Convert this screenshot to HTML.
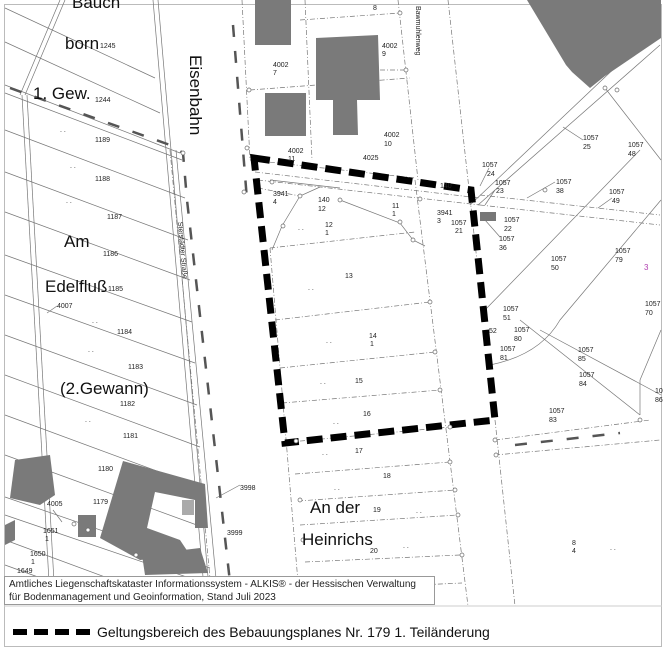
<!DOCTYPE html>
<html><head><meta charset="utf-8"><style>
html,body{margin:0;padding:0;background:#fff}
svg{display:block}
text{font-family:"Liberation Sans",sans-serif;fill:#222}
.s{font-size:7px}
.b{font-size:17px;fill:#111}
</style></head><body>
<svg width="667" height="651" viewBox="0 0 667 651" xmlns="http://www.w3.org/2000/svg">
<rect width="667" height="651" fill="#fff"/>
<rect x="4.5" y="4.5" width="657" height="642" fill="none" stroke="#bbb" stroke-width="1"/>
<line x1="4" y1="606" x2="662" y2="606" stroke="#ccc"/>
<g stroke="#777" stroke-width="0.7" fill="none">
<line x1="5" y1="8" x2="155" y2="78"/>
<line x1="5" y1="42" x2="160" y2="113"/>
<line x1="5" y1="85" x2="180" y2="153"/>
<line x1="5" y1="93" x2="182" y2="160"/>
<line x1="5" y1="130" x2="185" y2="198"/>
<line x1="5" y1="172" x2="188" y2="240"/>
<line x1="5" y1="212" x2="190" y2="280"/>
<line x1="5" y1="255" x2="192" y2="322"/>
<line x1="5" y1="295" x2="195" y2="363"/>
<line x1="5" y1="335" x2="197" y2="405"/>
<line x1="5" y1="375" x2="200" y2="447"/>
<line x1="5" y1="415" x2="203" y2="488"/>
<line x1="5" y1="455" x2="205" y2="528"/>
<line x1="5" y1="497" x2="210" y2="568"/>
<line x1="5" y1="515" x2="210" y2="585"/>
<line x1="5" y1="540" x2="140" y2="590"/>
<line x1="5" y1="565" x2="60" y2="585"/>
<line x1="60" y1="0" x2="20" y2="95"/>
<line x1="65" y1="0" x2="25" y2="95"/>
<line x1="22" y1="95" x2="50" y2="600"/>
<line x1="27" y1="95" x2="55" y2="600"/>
<line x1="153" y1="0" x2="205" y2="600"/>
<line x1="158" y1="0" x2="210" y2="600"/>
<line x1="170" y1="150" x2="212" y2="600" stroke-dasharray="5 2 1 2"/>
<line x1="176" y1="150" x2="218" y2="600"/>
<line x1="242" y1="0" x2="250" y2="160" stroke-dasharray="5 2 1 2"/>
<line x1="250" y1="90" x2="410" y2="78" stroke-dasharray="5 2 1 2"/>
<line x1="250" y1="160" x2="415" y2="178" stroke-dasharray="5 2 1 2"/>
<line x1="300" y1="20" x2="400" y2="13" stroke-dasharray="5 2 1 2"/>
<line x1="305" y1="0" x2="312" y2="160" stroke-dasharray="5 2 1 2"/>
<line x1="398" y1="0" x2="418" y2="180" stroke-dasharray="5 2 1 2"/>
<line x1="448" y1="0" x2="478" y2="270" stroke-dasharray="5 2 1 2"/>
<line x1="380" y1="70" x2="405" y2="70" stroke-dasharray="5 2 1 2"/>
<line x1="255" y1="172" x2="480" y2="198" stroke-dasharray="5 2 1 2"/>
<line x1="258" y1="180" x2="480" y2="205" stroke-dasharray="5 2 1 2"/>
<line x1="270" y1="180" x2="340" y2="188"/>
<path d="M272 250 L282 226 L300 196 L320 187"/>
<path d="M340 200 L400 223 L413 240 L425 246"/>
<line x1="258" y1="188" x2="300" y2="196" stroke-dasharray="5 2 1 2"/>
<line x1="270" y1="248" x2="415" y2="232" stroke-dasharray="5 2 1 2"/>
<line x1="275" y1="320" x2="430" y2="302" stroke-dasharray="5 2 1 2"/>
<line x1="280" y1="368" x2="435" y2="352" stroke-dasharray="5 2 1 2"/>
<line x1="282" y1="403" x2="440" y2="390" stroke-dasharray="5 2 1 2"/>
<line x1="290" y1="442" x2="450" y2="427" stroke-dasharray="5 2 1 2"/>
<line x1="295" y1="474" x2="450" y2="462" stroke-dasharray="5 2 1 2"/>
<line x1="298" y1="501" x2="455" y2="490" stroke-dasharray="5 2 1 2"/>
<line x1="300" y1="525" x2="458" y2="515" stroke-dasharray="5 2 1 2"/>
<line x1="305" y1="562" x2="460" y2="555" stroke-dasharray="5 2 1 2"/>
<line x1="308" y1="590" x2="462" y2="583" stroke-dasharray="5 2 1 2"/>
<line x1="415" y1="180" x2="468" y2="606" stroke-dasharray="5 2 1 2"/>
<line x1="270" y1="248" x2="300" y2="606" stroke-dasharray="5 2 1 2"/>
<line x1="495" y1="420" x2="515" y2="606" stroke-dasharray="5 2 1 2"/>
<line x1="495" y1="440" x2="650" y2="420" stroke-dasharray="5 2 1 2"/>
<line x1="495" y1="455" x2="660" y2="440" stroke-dasharray="5 2 1 2"/>
<line x1="470" y1="205" x2="660" y2="25"/>
<line x1="478" y1="205" x2="660" y2="45"/>
<line x1="480" y1="195" x2="660" y2="215" stroke-dasharray="5 2 1 2"/>
<line x1="480" y1="205" x2="660" y2="225" stroke-dasharray="5 2 1 2"/>
<line x1="605" y1="88" x2="661" y2="160"/>
<line x1="485" y1="310" x2="640" y2="150"/>
<path d="M490 365 Q540 355 560 320 L661 200"/>
<line x1="520" y1="320" x2="640" y2="415"/>
<line x1="540" y1="330" x2="661" y2="395"/>
<line x1="640" y1="380" x2="661" y2="330"/>
<line x1="640" y1="380" x2="640" y2="415"/>
<line x1="563" y1="127" x2="583" y2="140"/>
<line x1="527" y1="198" x2="555" y2="182"/>
<line x1="598" y1="208" x2="612" y2="198"/>
<line x1="216" y1="498" x2="240" y2="485"/>
<line x1="480" y1="186" x2="489" y2="168"/>
<line x1="485" y1="205" x2="495" y2="190"/>
<line x1="485" y1="220" x2="500" y2="237"/>
<line x1="53" y1="510" x2="62" y2="522"/>
<line x1="47" y1="313" x2="57" y2="306"/>
</g>
<g stroke="#555" stroke-width="2.5" fill="none" stroke-dasharray="12 14">
<path d="M10 88 L170 145 L183 153 L187 200 L232 600"/>
<path d="M233 25 L247 200"/>
<path d="M515 445 L620 433"/>
</g>
<g fill="#7a7a7a">
<rect x="255" y="0" width="36" height="45"/>
<path d="M316 38 L378 35 L380 100 L357 100 L358 135 L333 135 L333 100 L316 100Z"/>
<rect x="265" y="93" width="41" height="43"/>
<path d="M527 0 L661 0 L661 38 L605 76 L590 88 L572 72 L566 65Z"/>
<path d="M15 460 L50 455 L55 495 L40 505 L10 498Z"/>
<path d="M5 525 L15 520 L15 540 L5 545Z"/>
<rect x="78" y="515" width="18" height="22"/>
<path d="M123 461 L205 484 L208 528 L195 528 L195 500 L155 492 L147 528 L180 540 L190 555 L140 560 L100 538Z"/>
<path d="M142 555 L200 548 L208 573 L145 575Z"/>
</g>
<rect x="182" y="500" width="12" height="15" fill="#aaa"/>
<rect x="480" y="212" width="16" height="9" fill="#777"/>
<path d="M254 158 L471 190 L495 420 L285 443 Z" fill="none" stroke="#000" stroke-width="7" stroke-dasharray="16 8"/>
<g fill="#fff" stroke="#666" stroke-width="0.7">
<circle cx="183" cy="153" r="2"/><circle cx="247" cy="148" r="2"/><circle cx="244" cy="192" r="2"/>
<circle cx="272" cy="182" r="2"/><circle cx="300" cy="196" r="2"/><circle cx="283" cy="226" r="2"/>
<circle cx="340" cy="200" r="2"/><circle cx="400" cy="222" r="2"/><circle cx="413" cy="240" r="2"/>
<circle cx="420" cy="199" r="2"/><circle cx="430" cy="302" r="2"/><circle cx="435" cy="352" r="2"/>
<circle cx="440" cy="390" r="2"/><circle cx="450" cy="427" r="2"/><circle cx="450" cy="462" r="2"/>
<circle cx="455" cy="490" r="2"/><circle cx="458" cy="515" r="2"/><circle cx="462" cy="555" r="2"/>
<circle cx="406" cy="70" r="2"/><circle cx="400" cy="13" r="2"/><circle cx="249" cy="90" r="2"/>
<circle cx="495" cy="440" r="2"/><circle cx="496" cy="455" r="2"/><circle cx="640" cy="420" r="2"/>
<circle cx="605" cy="88" r="2"/><circle cx="617" cy="90" r="2"/><circle cx="545" cy="190" r="2"/>
<circle cx="74" cy="524" r="2"/><circle cx="88" cy="530" r="2"/><circle cx="136" cy="555" r="2"/>
<circle cx="296" cy="441" r="2"/><circle cx="300" cy="500" r="2"/><circle cx="303" cy="540" r="2"/>
</g>
<g class="s">
<text x="60" y="132">. .</text><text x="70" y="168">. .</text><text x="66" y="203">. .</text>
<text x="92" y="323">. .</text><text x="88" y="352">. .</text><text x="85" y="422">. .</text>
<text x="298" y="230">. .</text><text x="308" y="290">. .</text><text x="326" y="343">. .</text>
<text x="320" y="384">. .</text><text x="333" y="424">. .</text><text x="322" y="455">. .</text>
<text x="334" y="490">. .</text><text x="416" y="513">. .</text><text x="403" y="548">. .</text>
<text x="610" y="550">. .</text>
</g>
<text class="b" x="72" y="8">Bauch</text>
<text class="b" x="65" y="49">born</text>
<text class="b" x="33" y="99">1. Gew.</text>
<text class="b" x="64" y="247">Am</text>
<text class="b" x="45" y="292">Edelfluß</text>
<text class="b" x="60" y="394">(2.Gewann)</text>
<text class="b" x="310" y="513">An der</text>
<text class="b" x="302" y="545">Heinrichs</text>
<text class="b" transform="translate(190,55) rotate(90)">Eisenbahn</text>
<text class="s" transform="translate(178,222) rotate(85)">Sterstädter Straße</text>
<text class="s" transform="translate(416,6) rotate(90)">Bawmuhlenweg</text>
<g class="s">
<text x="100" y="48">1245</text><text x="95" y="102">1244</text><text x="95" y="142">1189</text>
<text x="95" y="181">1188</text><text x="107" y="219">1187</text><text x="103" y="256">1186</text>
<text x="108" y="291">1185</text><text x="57" y="308">4007</text><text x="117" y="334">1184</text>
<text x="128" y="369">1183</text><text x="120" y="406">1182</text><text x="123" y="438">1181</text>
<text x="98" y="471">1180</text><text x="93" y="504">1179</text><text x="47" y="506">4005</text>
<text x="43" y="533">1651</text><text x="45" y="541">1</text><text x="30" y="556">1650</text><text x="31" y="564">1</text>
<text x="17" y="573">1649</text><text x="240" y="490">3998</text><text x="227" y="535">3999</text>
<text x="373" y="10">8</text><text x="382" y="48">4002</text><text x="382" y="56">9</text>
<text x="273" y="67">4002</text><text x="273" y="75">7</text>
<text x="384" y="137">4002</text><text x="384" y="146">10</text>
<text x="288" y="153">4002</text><text x="288" y="161">11</text><text x="363" y="160">4025</text>
<text x="273" y="196">3941</text><text x="273" y="204">4</text>
<text x="318" y="202">140</text><text x="318" y="211">12</text>
<text x="325" y="227">12</text><text x="325" y="235">1</text>
<text x="392" y="208">11</text><text x="392" y="216">1</text>
<text x="437" y="215">3941</text><text x="437" y="223">3</text>
<text x="440" y="188">140</text>
<text x="451" y="225">1057</text><text x="455" y="233">21</text>
<text x="345" y="278">13</text><text x="369" y="338">14</text><text x="370" y="346">1</text>
<text x="355" y="383">15</text><text x="363" y="416">16</text><text x="355" y="453">17</text>
<text x="383" y="478">18</text><text x="373" y="512">19</text><text x="370" y="553">20</text>
<text x="482" y="167">1057</text><text x="487" y="176">24</text>
<text x="495" y="185">1057</text><text x="496" y="193">23</text>
<text x="583" y="140">1057</text><text x="583" y="149">25</text>
<text x="628" y="147">1057</text><text x="628" y="156">48</text>
<text x="556" y="184">1057</text><text x="556" y="193">38</text>
<text x="609" y="194">1057</text><text x="612" y="203">49</text>
<text x="504" y="222">1057</text><text x="504" y="231">22</text>
<text x="499" y="241">1057</text><text x="499" y="250">36</text>
<text x="551" y="261">1057</text><text x="551" y="270">50</text>
<text x="615" y="253">1057</text><text x="615" y="262">79</text>
<text x="645" y="306">1057</text><text x="645" y="315">70</text>
<text x="503" y="311">1057</text><text x="503" y="320">51</text>
<text x="489" y="333">52</text>
<text x="514" y="332">1057</text><text x="514" y="341">80</text>
<text x="500" y="351">1057</text><text x="500" y="360">81</text>
<text x="578" y="352">1057</text><text x="578" y="361">85</text>
<text x="579" y="377">1057</text><text x="579" y="386">84</text>
<text x="549" y="413">1057</text><text x="549" y="422">83</text>
<text x="655" y="393">10</text><text x="655" y="402">86</text>
<text x="572" y="545">8</text><text x="572" y="553">4</text>
</g>
<text x="644" y="270" style="font-size:8px;fill:#b040b0">3</text>
<rect x="4.5" y="576.5" width="430" height="28" fill="#fff" stroke="#999"/>
<text x="9" y="587" style="font-size:10px">Amtliches Liegenschaftskataster Informationssystem - ALKIS® - der Hessischen Verwaltung</text>
<text x="9" y="600" style="font-size:10px">für Bodenmanagement und Geoinformation, Stand Juli 2023</text>
<line x1="13" y1="632" x2="92" y2="632" stroke="#000" stroke-width="6" stroke-dasharray="14 7"/>
<text x="97" y="637" style="font-size:14px;fill:#111">Geltungsbereich des Bebauungsplanes Nr. 179 1. Teiländerung</text>
</svg>
</body></html>
